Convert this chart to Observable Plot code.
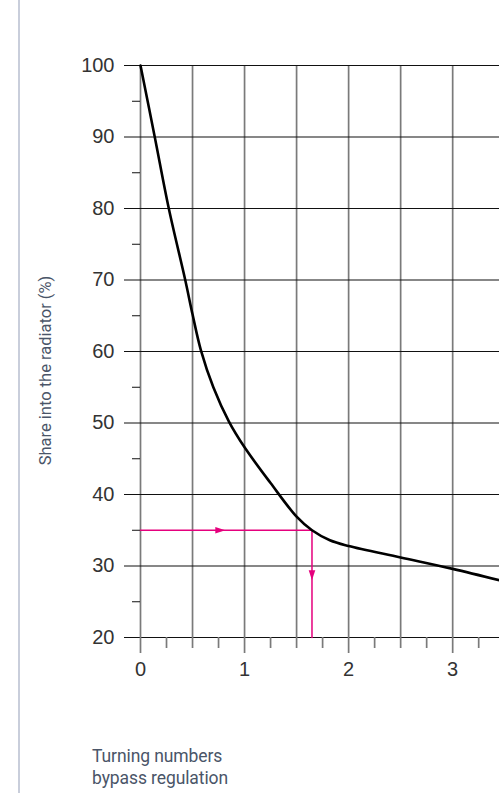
<!DOCTYPE html>
<html>
<head>
<meta charset="utf-8">
<script src="https://cdn.jsdelivr.net/npm/d3@7"></script>
<script src="https://cdn.jsdelivr.net/npm/@observablehq/plot@0.6"></script>
<style>
  html, body { margin: 0; padding: 0; background: #fff; }
  #wrap { position: relative; width: 499px; height: 793px; overflow: hidden; }
  #rule { position: absolute; left: 18px; top: 0; width: 2px; height: 793px; background: #c9cedb; }
  #chart { position: absolute; left: 0; top: 0; }
  #caption { position: absolute; left: 92px; top: 745px; font-family: Roboto, "Noto Sans", sans-serif; font-size: 17.5px; line-height: 22px; color: #4a5568; letter-spacing: -0.1px; }
</style>
</head>
<body>
<div id="wrap">
  <div id="rule"></div>
  <div id="chart"></div>
  <div id="caption">Turning numbers<br>bypass regulation</div>
</div>
<script>
// ---- data ----
const curveX = [0, 0.137, 0.272, 0.43, 0.5, 0.58, 0.7, 0.85, 1.0, 1.25, 1.5, 1.648, 1.82, 2.0, 2.5, 3.0, 3.45];
const curveY = [100, 90, 80, 70, 65.2, 60.2, 55, 50.2, 46.6, 41.6, 36.9, 35, 33.6, 32.8, 31.2, 29.6, 28.0];
const guideX = [0, 1.648, 1.648];
const guideY = [35, 35, 20];
const arrowRightX = [0.815];
const arrowRightY = [35];
const arrowDownX = [1.648];
const arrowDownY = [28];
const xMajorTicks = [0, 1, 2, 3];
const xMinorTicks = [0.25, 0.5, 0.75, 1.25, 1.5, 1.75, 2.25, 2.5, 2.75, 3.25];
const xGridLines = [0, 0.5, 1, 1.5, 2, 2.5, 3];
const yMajorTicks = [20, 30, 40, 50, 60, 70, 80, 90, 100];
const yMinorTicks = [25, 35, 45, 55, 65, 75, 85, 95];
const yLabel = "Share into the radiator (%)";

const curve = curveX.map((x, i) => ({x, y: curveY[i]}));
const guide = guideX.map((x, i) => ({x, y: guideY[i]}));
const arrR = arrowRightX.map((x, i) => ({x, y: arrowRightY[i]}));
const arrD = arrowDownX.map((x, i) => ({x, y: arrowDownY[i]}));

const pink = "#e5007d";
const triRight = {draw(ctx) { ctx.moveTo(0, 0); ctx.lineTo(-10, -3.3); ctx.lineTo(-10, 3.3); ctx.closePath(); }};
const triDown = {draw(ctx) { ctx.moveTo(0, 0); ctx.lineTo(-3.3, -10); ctx.lineTo(3.3, -10); ctx.closePath(); }};

const chart = Plot.plot({
  width: 499,
  height: 700,
  marginLeft: 140,
  marginRight: 0,
  marginTop: 65,
  marginBottom: 63,
  x: {domain: [0, 3.45]},
  y: {domain: [20, 100]},
  style: {fontFamily: "'Liberation Sans', Arial, sans-serif", fontSize: "20px", color: "#333", background: "transparent", overflow: "visible"},
  marks: [
    Plot.ruleX(xGridLines, {stroke: "#7a7a7a", strokeWidth: 1.7}),
    Plot.ruleY(yMajorTicks, {stroke: "#111", strokeWidth: 1.1}),
    Plot.axisY(yMajorTicks, {anchor: "left", tickSize: 16, tickPadding: 10, stroke: "#111", fill: "#333", label: null, tickFormat: d => d}),
    Plot.axisY(yMinorTicks, {anchor: "left", tickSize: 8, stroke: "#111", label: null, tickFormat: () => ""}),
    Plot.axisX(xMajorTicks, {anchor: "bottom", tickSize: 16, tickPadding: 8, stroke: "#7a7a7a", strokeWidth: 1.7, fill: "#333", label: null, tickFormat: d => d}),
    Plot.axisX(xMinorTicks, {anchor: "bottom", tickSize: 11, stroke: "#7a7a7a", strokeWidth: 1.7, label: null, tickFormat: () => ""}),
    Plot.line(guide, {x: "x", y: "y", stroke: pink, strokeWidth: 1.5}),
    Plot.line(curve, {x: "x", y: "y", curve: "catmull-rom", stroke: "#000", strokeWidth: 2.6}),
    Plot.dot(arrR, {x: "x", y: "y", symbol: triRight, fill: pink, stroke: null}),
    Plot.dot(arrD, {x: "x", y: "y", symbol: triDown, fill: pink, stroke: null}),
    Plot.text([yLabel], {frameAnchor: "left", textAnchor: "middle", text: d => d, rotate: -90, dx: -95, dy: 19, fontFamily: "Roboto, 'Noto Sans', sans-serif", fontSize: 16.5, fill: "#4a5568"})
  ]
});
document.getElementById("chart").appendChild(chart);
</script>
</body>
</html>
